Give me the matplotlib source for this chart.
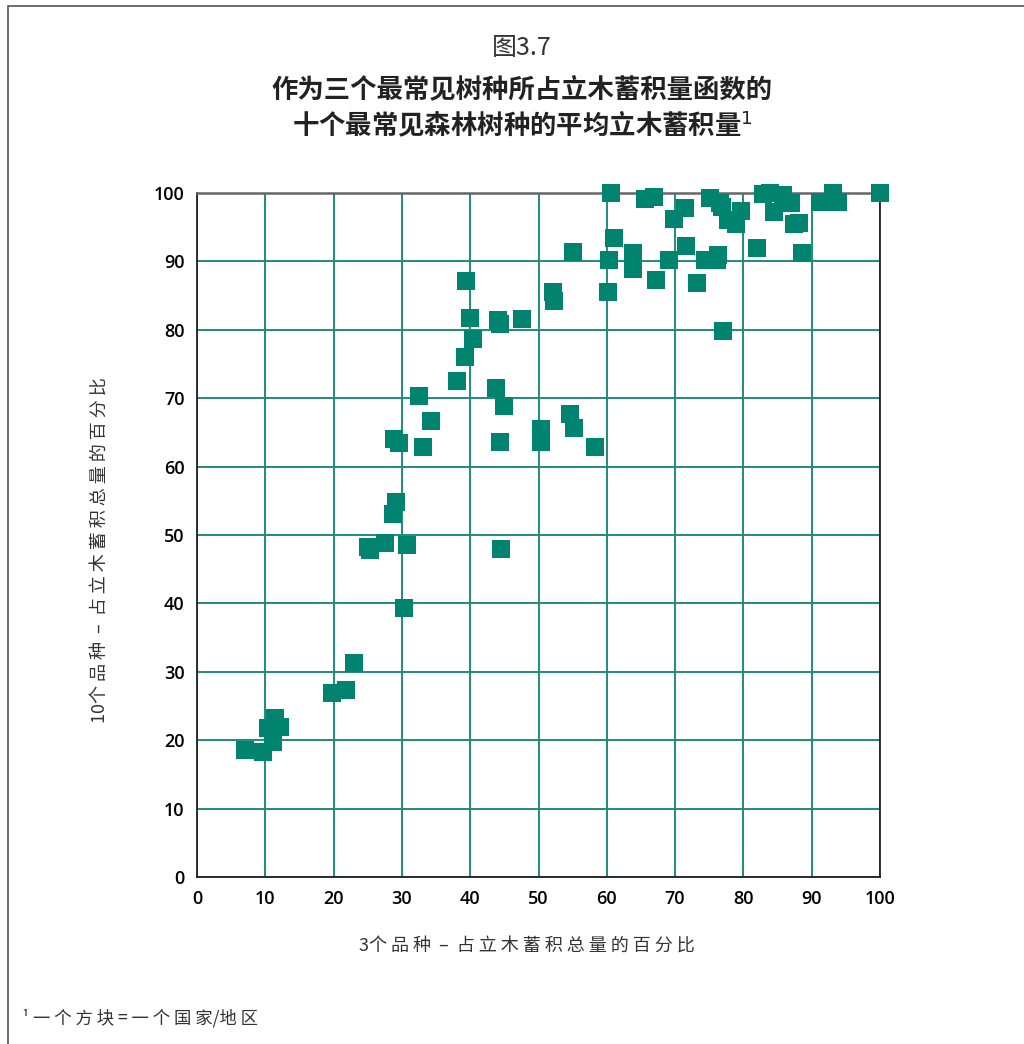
import matplotlib
matplotlib.use("Agg")
import matplotlib.pyplot as plt
from matplotlib.patches import Rectangle

plt.rcParams['font.family'] = ['Noto Sans CJK SC', 'DejaVu Sans']

# share of growing stock held by the 3 most common species (x)
# vs share held by the 10 most common species (y), one square per country/area
pct_top3 = [
    7.0, 9.7, 10.4, 11.4, 12.2, 11.1, 19.8, 21.8, 23.0,
    25.0, 25.3, 27.5, 30.7, 30.3, 28.7, 29.1, 28.8, 29.6, 33.1, 34.3, 32.5,
    38.1, 39.2, 40.4, 40.0, 39.4, 43.8, 44.9, 44.1, 44.4, 47.6, 44.4, 44.5,
    50.4, 50.4, 54.6, 55.2, 58.3, 52.1, 52.3, 55.0,
    60.6, 65.6, 66.9, 71.4, 69.8, 75.1, 76.6, 76.9, 79.6, 77.7, 78.9,
    82.9, 83.9, 85.8, 87.0, 84.5, 87.4, 88.1, 91.2, 93.1, 93.8, 100.0,
    61.1, 60.3, 63.8, 63.8, 67.2, 60.2, 69.1, 71.6, 73.2, 74.4, 76.3, 76.1,
    82.0, 88.6, 77.0,
]
pct_top10 = [
    18.6, 18.3, 21.8, 23.2, 21.9, 19.7, 26.9, 27.3, 31.3,
    48.3, 47.8, 48.8, 48.5, 39.4, 53.1, 54.8, 64.0, 63.4, 62.9, 66.7, 70.3,
    72.5, 76.0, 78.7, 81.7, 87.1, 71.5, 68.9, 81.4, 80.8, 81.6, 63.6, 48.0,
    65.5, 63.6, 67.7, 65.6, 62.9, 85.5, 84.2, 91.4,
    100.0, 99.1, 99.4, 97.8, 96.2, 99.3, 98.5, 98.0, 97.4, 96.1, 95.5,
    99.9, 100.0, 99.7, 98.5, 97.2, 95.5, 95.6, 98.7, 100.0, 98.7, 100.0,
    93.4, 90.2, 91.2, 88.9, 87.3, 85.5, 90.2, 92.2, 86.8, 90.2, 90.9, 90.2,
    92.0, 91.2, 79.8,
]
ticks = list(range(0, 101, 10))

teal = '#00836f'
grid_teal = '#1e8c7c'

fig = plt.figure(figsize=(10.24, 10.44), dpi=100)
fig.patches.append(Rectangle((8 / 1024, -0.1), 1.2, 1.1 - 6 / 1044,
                             transform=fig.transFigure, fill=False,
                             edgecolor='#555555', linewidth=1.2))

ax = fig.add_axes([197 / 1024, 1 - 877 / 1044, 683 / 1024, 684 / 1044])
ax.set_xlim(0, 100)
ax.set_ylim(0, 100)
ax.set_xticks(ticks)
ax.set_yticks(ticks)
ax.grid(True, color=grid_teal, linewidth=1.4)
ax.set_axisbelow(True)
ax.tick_params(length=0, pad=9)
for lbl in ax.get_xticklabels() + ax.get_yticklabels():
    lbl.set_fontfamily('Open Sans')
    lbl.set_fontsize(13)
    lbl.set_fontweight('semibold')
for side in ['left', 'bottom', 'right']:
    ax.spines[side].set_color('#222222')
    ax.spines[side].set_linewidth(1.3)
ax.spines['top'].set_color('#666666')
ax.spines['top'].set_linewidth(1.8)

ax.scatter(pct_top3, pct_top10, marker='s', s=155, color=teal,
           linewidths=0, clip_on=False, zorder=3)

ax.set_xlabel('3个 品 种  –  占 立 木 蓄 积 总 量 的 百 分 比', fontsize=13,
              color='#333333')
ax.set_ylabel('10个 品 种  –  占 立 木 蓄 积 总 量 的 百 分 比', fontsize=13,
              color='#333333')
ax.xaxis.set_label_coords(0.483, -0.088)
ax.yaxis.set_label_coords(-0.128, 0.478)

fig.text(0.51, 1 - 48 / 1044, '图3.7', ha='center', va='center',
         fontsize=18, color='#333333', fontweight='light')
fig.text(0.51, 1 - 90 / 1044, '作为三个最常见树种所占立木蓄积量函数的',
         ha='center', va='center', fontsize=19, fontweight='bold', color='#222222')
fig.text(0.51, 1 - 125 / 1044, '十个最常见森林树种的平均立木蓄积量$^{1}$',
         ha='center', va='center', fontsize=19, fontweight='bold', color='#222222')
fig.text(22 / 1024, 1 - 1018 / 1044, '¹ 一 个 方 块 = 一 个 国 家/地 区',
         ha='left', va='center', fontsize=12.5, color='#333333')

fig.savefig('out.png', dpi=100)
